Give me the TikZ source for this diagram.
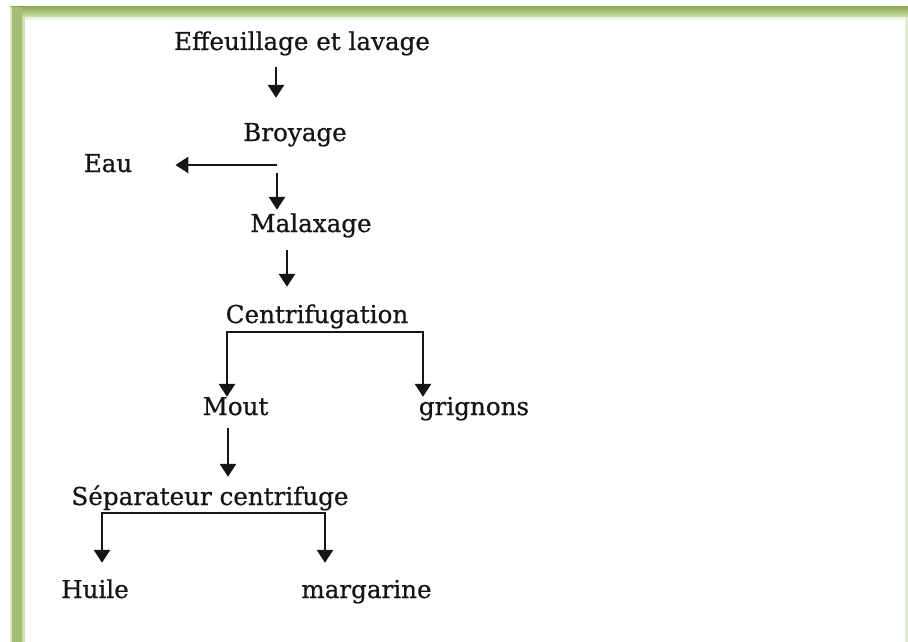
\documentclass[tikz,border=0pt]{standalone}
\usepackage{fontspec}
\setmainfont[FakeBold=0.6]{DejaVu Serif}
\usetikzlibrary{arrows.meta}
\definecolor{framedark}{HTML}{8EAC58}
\definecolor{framemid}{HTML}{A3BE72}
\definecolor{framelight}{HTML}{CFE0AE}
\definecolor{ink}{HTML}{151515}
\begin{document}
\begin{tikzpicture}[x=1pt,y=-1pt,
  lbl/.style={font=\fontsize{24.6}{28}\selectfont, text=ink, inner sep=0pt,
              text height=18pt, text depth=5pt, anchor=base},
  flow/.style={draw=ink, line width=2.8pt,
               -{Triangle[length=13pt,width=16pt]}},
  split/.style={draw=ink, line width=2.8pt,
               {Triangle[length=13pt,width=16pt]}-{Triangle[length=13pt,width=16pt]}}]
\useasboundingbox (0,0) rectangle (908,642);
\fill[white] (0,0) rectangle (908,642);

% green frame: top band and left band
\shade[top color=framedark, bottom color=framelight] (10,7) rectangle (908,17);
\fill[framemid] (12,7) rectangle (22,642);
\fill[framelight!80!white] (10,7) rectangle (12,642);
\fill[framelight] (22,17) rectangle (25,642);
\fill[framelight!35!white] (25,17) rectangle (908,20);
\fill[framelight!60!white] (905,17) rectangle (908,642);

% process steps
\node[lbl] (eff)  at (302,50)  {Effeuillage et lavage};
\node[lbl] (broy) at (295,141) {Broyage};
\node[lbl] (eau)  at (108,172) {Eau};
\node[lbl] (mal)  at (311,232) {Malaxage};
\node[lbl] (cent) at (317,323) {Centrifugation};
\node[lbl] (mout) at (235.5,415) {Mout};
\node[lbl] (grig) at (474,415) {grignons};
\node[lbl] (sep)  at (210,505) {Séparateur centrifuge};
\node[lbl] (huile) at (95,598) {Huile};
\node[lbl] (marg) at (366.5,598) {margarine};

% junction points
\coordinate (j1)  at (277,165);
\coordinate (b1l) at (227,332);
\coordinate (b1r) at (423,332);
\coordinate (b2l) at (102,513);
\coordinate (b2r) at (325,513);

% connectors
\draw[flow, shorten <=12pt, shorten >=25pt]
  ([xshift=-26pt]eff.south) -- ([xshift=-19pt]broy.north);
\draw[flow, shorten >=43pt] (j1) -- (j1 -| eau.east);
\draw[flow, shorten <=8pt, shorten >=4pt] (j1) -- (j1 |- mal.north);
\draw[flow, shorten <=13pt, shorten >=18pt]
  ([xshift=-24pt]mal.south) -- ([xshift=-30pt]cent.north);
\draw[split] (mout.north -| b1l) -- (b1l) -- (b1r) -- (b1r |- grig.north);
\draw[flow, shorten <=8pt, shorten >=10pt]
  ([xshift=-7.5pt]mout.south) -- ([xshift=18pt]sep.north);
\draw[split, shorten <=17pt, shorten >=17pt]
  (huile.north -| b2l) -- (b2l) -- (b2r) -- (b2r |- marg.north);
\end{tikzpicture}
\end{document}
